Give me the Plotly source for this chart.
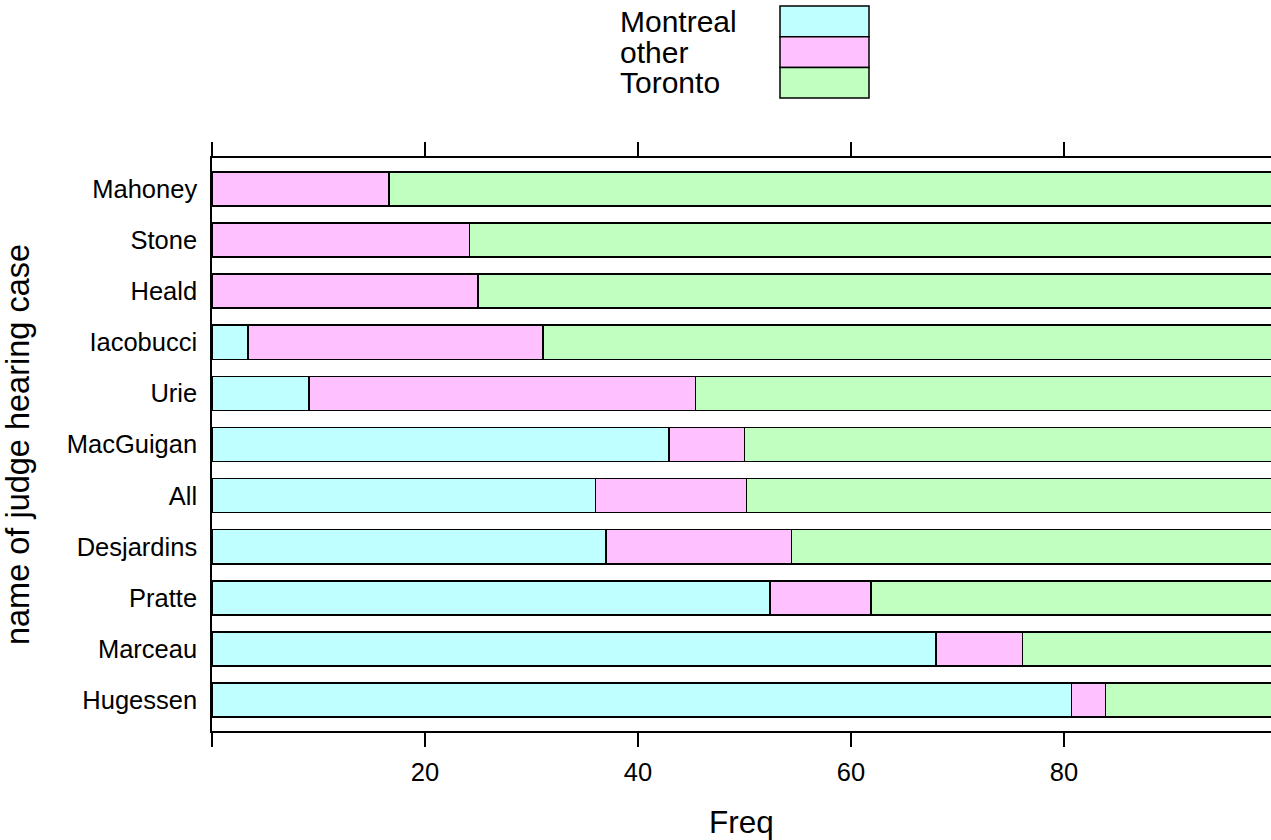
import plotly.graph_objects as go

judges = ["Hugessen", "Marceau", "Pratte", "Desjardins", "All", "MacGuigan",
          "Urie", "Iacobucci", "Heald", "Stone", "Mahoney"]
montreal = [80.7, 68.0, 52.4, 37.0, 36.0, 42.9, 9.1, 3.4, 0.0, 0.0, 0.0]
other = [3.2, 8.1, 9.5, 17.4, 14.2, 7.1, 36.3, 27.7, 25.0, 24.2, 16.6]
toronto = [16.1, 23.9, 38.1, 45.6, 49.8, 50.0, 54.6, 68.9, 75.0, 75.8, 83.4]
series_names = ["Montreal", "other", "Toronto"]
series_colors = ["#C0FFFF", "#FFC0FF", "#C0FFC0"]
x_ticks = [0, 20, 40, 60, 80]
x_ticktext = ["", "20", "40", "60", "80"]

W, H = 1271, 840
L, R, T, B = 212, 0, 158, 109
FONT = "Liberation Sans, Arial, Helvetica, sans-serif"

fig = go.Figure()
for name, vals, col in zip(series_names, [montreal, other, toronto], series_colors):
    fig.add_trace(go.Bar(
        y=judges, x=vals, name=name, orientation="h",
        marker=dict(color=col, line=dict(color="black", width=1.5)),
        width=2/3, showlegend=False, hoverinfo="skip",
    ))

fig.update_layout(
    barmode="stack",
    width=W, height=H,
    margin=dict(l=L, r=R, t=T, b=B, pad=0),
    plot_bgcolor="white", paper_bgcolor="white",
    font=dict(family=FONT, color="black", size=25.5),
    showlegend=False,
)
fig.update_xaxes(
    range=[0, 99.45], tickvals=x_ticks, ticktext=x_ticktext,
    showline=True, linecolor="black", linewidth=1.5, mirror="allticks",
    ticks="outside", ticklen=14, tickwidth=1.5, tickcolor="black",
    showgrid=False, zeroline=False, ticklabelstandoff=4,
    tickfont=dict(size=25.5),
    title=dict(text="Freq", font=dict(size=31.5), standoff=30),
)
fig.update_yaxes(
    type="category", categoryorder="array", categoryarray=judges,
    range=[-0.605, 10.605],
    showline=True, linecolor="black", linewidth=1.5, mirror=False,
    ticks="", showgrid=False, zeroline=False, ticklabelstandoff=8,
    tickfont=dict(size=25.5),
    title=dict(text="name of judge hearing case", font=dict(size=32.5), standoff=32),
)

# Legend drawn as a key box: labels on the left, stacked swatches on the right
pw, ph = W - L - R, H - T - B
def px2x(px):
    return (px - L) / pw
def py2y(py):
    return (H - B - py) / ph

key_top, key_h = 6, 30.7
for i, (name, col) in enumerate(zip(series_names, series_colors)):
    y0 = key_top + i * key_h
    fig.add_shape(type="rect", xref="paper", yref="paper",
                  x0=px2x(780), x1=px2x(869), y0=py2y(y0 + key_h), y1=py2y(y0),
                  fillcolor=col, line=dict(color="black", width=1.5))
    fig.add_annotation(xref="paper", yref="paper", x=px2x(618), y=py2y(y0 + key_h / 2),
                       text=name, showarrow=False, xanchor="left", yanchor="middle",
                       font=dict(size=30, family=FONT, color="black"))

fig.write_html("out.html", config={"displayModeBar": False},
               post_script="document.body.style.margin='0px';document.body.style.padding='0px';")
